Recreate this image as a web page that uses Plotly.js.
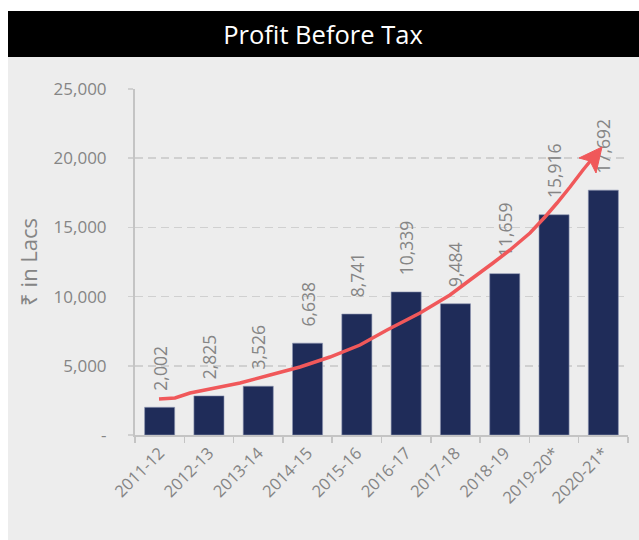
<!DOCTYPE html>
<html>
<head>
<meta charset="utf-8">
<script src="https://cdn.plot.ly/plotly-3.0.1.min.js"></script>
<style>
html,body{margin:0;padding:0;background:#ffffff;}
#chart{width:639px;height:540px;}
</style>
</head>
<body>
<div id="chart"></div>
<script>
const categories = ['2011-12','2012-13','2013-14','2014-15','2015-16','2016-17','2017-18','2018-19','2019-20*','2020-21*'];
const profitBeforeTax = [2002,2825,3526,6638,8741,10339,9484,11659,15916,17692];
const yTickVals = [0,5000,10000,15000,20000,25000];
const yTickText = ['-','5,000','10,000','15,000','20,000','25,000'];

const W = 639, H = 540;
const M = {l:135, r:11, t:89, b:105};
const PW = W - M.l - M.r, PH = H - M.t - M.b;
// pixel -> paper helpers (for decorative shapes only)
const px = x => (x - M.l) / PW;
const py = y => (H - M.b - y) / PH;

const FONT = 'Open Sans, sans-serif';
const GRAY = '#858585';

// decorative trend arrow (hand-drawn in the original)
const curvePts = [[159,399],[175,398],[190,393],[210,389],[240,383],[270,375],[300,367],[330,357],[360,345],[387,330],[420,313],[450,295],[470,280],[493,263],[510,250],[530,233],[545,217],[557,203],[570,187],[583,170],[592,159]];
const curvePath = curvePts.map((p,i)=>(i?'L':'M')+px(p[0]).toFixed(4)+','+py(p[1]).toFixed(4)).join(' ');
const headPts = [[602,147],[579,158],[590,161],[596,173]];
const headPath = headPts.map((p,i)=>(i?'L':'M')+px(p[0]).toFixed(4)+','+py(p[1]).toFixed(4)).join(' ') + ' Z';

const trace = {
  type:'bar',
  x: categories,
  y: profitBeforeTax,
  marker:{color:'#1f2c59', line:{color:'#8e97b3', width:0.6}},
  text: profitBeforeTax.map(v => '\u00a0\u00a0\u00a0' + v.toLocaleString('en-US')),
  textposition:'outside',
  textangle:-90,
  constraintext:'none',
  textfont:{family:FONT, size:17.5, color:GRAY},
  cliponaxis:false,
  hoverinfo:'x+y'
};

const layout = {
  width:W, height:H,
  margin:M,
  paper_bgcolor:'#ffffff',
  plot_bgcolor:'rgba(0,0,0,0)',
  showlegend:false,
  bargap:0.39,
  font:{family:FONT, color:GRAY},
  title:{
    text:'Profit Before Tax',
    font:{family:FONT, size:25.5, color:'#ffffff'},
    xref:'container', x:323/W, xanchor:'center',
    yref:'container', y:1 - 35/H, yanchor:'middle'
  },
  xaxis:{
    type:'category',
    tickangle:-45,
    tickfont:{family:FONT, size:16.5, color:GRAY},
    showline:true, linecolor:'#c4c4c4', linewidth:2,
    ticks:'outside', tickson:'boundaries', ticklen:6, tickcolor:'#c4c4c4', tickwidth:1.5,
    showgrid:false, zeroline:false, fixedrange:true
  },
  yaxis:{
    range:[0,25000],
    tickvals:yTickVals, ticktext:yTickText,
    tickfont:{family:FONT, size:17, color:GRAY},
    showline:true, linecolor:'#c4c4c4', linewidth:2,
    ticks:'outside', ticklen:5, tickcolor:'#d0d0d0', tickwidth:1.5,
    ticklabelstandoff:18,
    showgrid:true, gridcolor:'#d0d0d0', gridwidth:1.5, griddash:'8px,5px',
    zeroline:false, fixedrange:true,
    title:{text:'₹ in Lacs', font:{family:FONT, size:22, color:GRAY}, standoff:10}
  },
  shapes:[
    {type:'rect', xref:'paper', yref:'paper', x0:px(8), x1:px(639), y0:py(540), y1:py(57), fillcolor:'#ededed', line:{width:0}, layer:'below'},
    {type:'rect', xref:'paper', yref:'paper', x0:px(8), x1:px(639), y0:py(57), y1:py(11), fillcolor:'#000000', line:{width:0}, layer:'below'},
    {type:'path', xref:'paper', yref:'paper', path:curvePath, line:{color:'#f0585a', width:3.5}, layer:'above'},
    {type:'path', xref:'paper', yref:'paper', path:headPath, fillcolor:'#f0585a', line:{color:'#f0585a', width:1}, layer:'above'}
  ]
};

Plotly.newPlot('chart', [trace], layout, {displayModeBar:false, staticPlot:true});
</script>
</body>
</html>
